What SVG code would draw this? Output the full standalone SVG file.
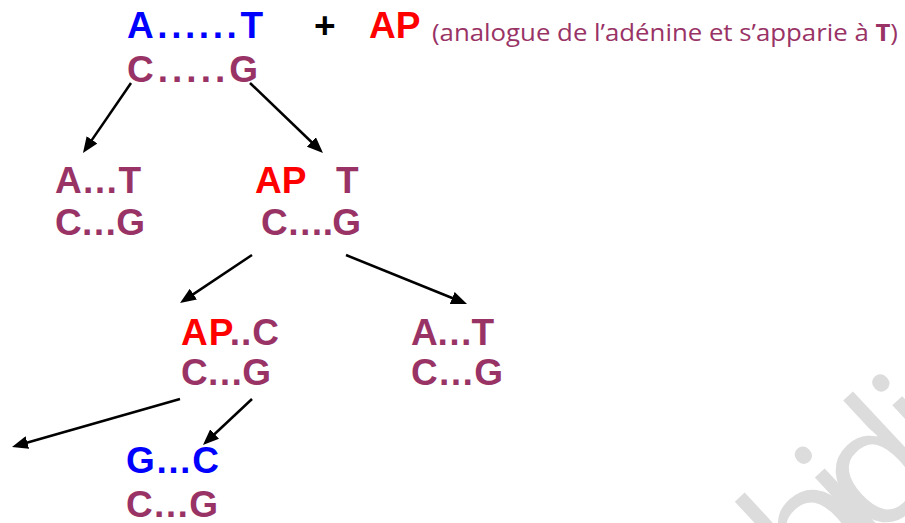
<svg xmlns="http://www.w3.org/2000/svg" width="905" height="523" viewBox="0 0 905 523">
  <style>
    .b { font-family: "Liberation Sans", Arial, sans-serif; font-weight: bold; font-size: 37px; }
    .blue { fill: #0000FF; }
    .red { fill: #FF0000; }
    .mar { fill: #993366; }
    .blk { fill: #000000; }
    .note { font-family: "Open Sans", "Noto Sans", sans-serif; font-size: 23px; fill: #993366; }
    .wm { font-family: "Open Sans", sans-serif; font-size: 165px; fill: #dcdcdc; }
    .arr { stroke: #000; stroke-width: 2.5; fill: none; marker-end: url(#ah); }
  </style>
  <defs>
    <marker id="ah" viewBox="0 0 16 13" markerWidth="16" markerHeight="13" refX="8" refY="6.5" orient="auto" markerUnits="userSpaceOnUse">
      <path d="M0,0 L16,6.5 L0,13 z" fill="#000"/>
    </marker>
  </defs>
  <rect width="905" height="523" fill="#fff"/>

  <g id="watermark">
    <text class="wm" transform="translate(826,588) rotate(-43)" x="-22 53 67 159" y="0">bidi</text>
  </g>

  <g id="connectors">
    <path class="arr" d="M131,83 L87.5,146.4"/>
    <path class="arr" d="M250,83 L317.2,147.5"/>
    <path class="arr" d="M252,255 L186.7,298.6"/>
    <path class="arr" d="M346,255 L459.6,301"/>
    <path class="arr" d="M180,399 L19.7,444.8"/>
    <path class="arr" d="M252,399 L208.8,439.5"/>
  </g>

  <g id="n0">
    <text class="b blue" x="127" y="38" textLength="136" lengthAdjust="spacing">A......T</text>
    <text class="b mar" x="127" y="82" textLength="131" lengthAdjust="spacing">C.....G</text>
  </g>
  <g id="legend">
    <text class="b blk" x="314" y="38">+</text>
    <text class="b red" x="369" y="38">AP</text>
    <text class="note" x="432" y="41" textLength="466" lengthAdjust="spacingAndGlyphs">(analogue de l’adénine et s’apparie à <tspan font-weight="bold">T</tspan>)</text>
  </g>
  <g id="n1">
    <text class="b mar" x="55" y="193" textLength="86" lengthAdjust="spacing">A…T</text>
    <text class="b mar" x="55" y="235" textLength="90" lengthAdjust="spacing">C…G</text>
  </g>
  <g id="n2">
    <text class="b red" x="255" y="193">AP</text>
    <text class="b mar" x="336" y="193">T</text>
    <text class="b mar" x="261" y="235" textLength="100" lengthAdjust="spacing">C….G</text>
  </g>
  <g id="n3">
    <text class="b" x="181" y="345" textLength="98" lengthAdjust="spacing"><tspan class="red">AP</tspan><tspan class="mar">..C</tspan></text>
    <text class="b mar" x="181" y="385" textLength="90" lengthAdjust="spacing">C…G</text>
  </g>
  <g id="n4">
    <text class="b mar" x="411" y="345" textLength="83" lengthAdjust="spacing">A…T</text>
    <text class="b mar" x="411" y="385" textLength="92" lengthAdjust="spacing">C…G</text>
  </g>
  <g id="n5">
    <text class="b blue" x="126" y="473" textLength="93" lengthAdjust="spacing">G…C</text>
    <text class="b mar" x="126" y="517" textLength="92" lengthAdjust="spacing">C…G</text>
  </g>
</svg>
